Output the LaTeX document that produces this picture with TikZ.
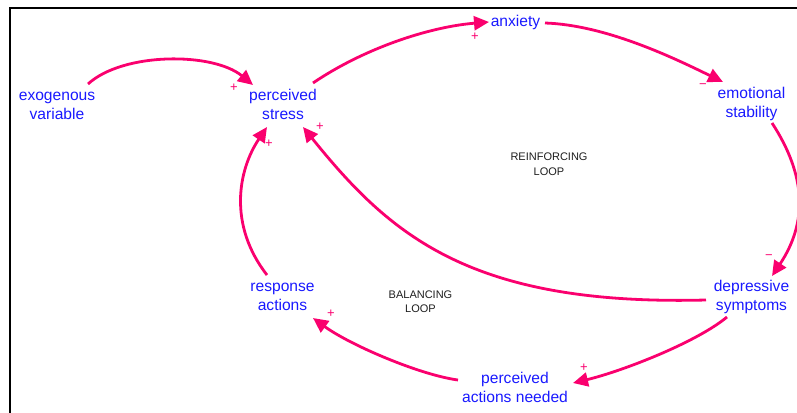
\documentclass[tikz,border=0pt]{standalone}
\usepackage{fontspec}
\setmainfont{Liberation Sans}
\usetikzlibrary{arrows.meta}
\definecolor{linkpink}{RGB}{250,0,110}
\definecolor{varblue}{RGB}{25,25,255}
\definecolor{looptext}{RGB}{30,30,30}
\begin{document}
\begin{tikzpicture}[x=1pt,y=-1pt,
  var/.style={text=varblue, font=\fontsize{15.6}{19}\selectfont, align=center, inner sep=0pt, anchor=base},
  looplabel/.style={text=looptext, font=\fontsize{11}{14.4}\selectfont, align=center, inner sep=0pt, anchor=base},
  link/.style={draw=linkpink, line width=2.8pt, -{Triangle[length=15pt,width=14pt]}},
  sign/.style={text=linkpink, font=\fontsize{13}{13}\selectfont, inner sep=0pt}]
\useasboundingbox (0,0) rectangle (797,412);
\clip (0,0) rectangle (797,412);

% frame
\draw[line width=2pt, black] (10.2,420) -- (10.2,8) -- (805,8);

% variables (placed by the baseline of their last line)
\node[var] (exo)  at (57,119.5)    {exogenous\\variable};
\node[var] (ps)   at (283,119)     {perceived\\stress};
\node[var] (anx)  at (515.5,26.5)  {anxiety};
\node[var] (emo)  at (751.5,117)   {emotional\\stability};
\node[var] (dep)  at (751.5,310.5) {depressive\\symptoms};
\node[var] (pan)  at (515,402)     {perceived\\actions needed};
\node[var] (resp) at (282.5,310.5) {response\\actions};

% loop names
\node[looplabel] (rloop) at (549,175.1)   {REINFORCING\\LOOP};
\node[looplabel] (bloop) at (420.5,312.7) {BALANCING\\LOOP};

% causal links
\draw[link] ([shift={(31,-35.5)}]exo.base) .. controls +(35,-32) and +(-40,-33) .. ([shift={(-30,-34)}]ps.base);
\draw[link] ([shift={(30,-36)}]ps.base) .. controls +(50,-34) and +(-61,5) .. ([shift={(-26.5,-4.5)}]anx.base);
\draw[link] ([shift={(29.5,-3.5)}]anx.base) .. controls +(60,2) and +(-51,-25) .. ([shift={(-28.5,-35)}]emo.base);
\draw[link] ([shift={(20.5,6)}]emo.base) .. controls +(34,52) and +(36,-54) .. ([shift={(20.5,-34.5)}]dep.base);
\draw[link] ([shift={(-45.5,-10.5)}]dep.base) .. controls +(-236,6) and +(87,108) .. ([shift={(20,8)}]ps.base);
\draw[link] ([shift={(-24.5,6.5)}]dep.base) .. controls +(-30,25) and +(50,-12) .. ([shift={(58,-19)}]pan.base);
\draw[link] ([shift={(-57,-22)}]pan.base) .. controls +(-38,-5) and +(37,27) .. ([shift={(30.5,7.5)}]resp.base);
\draw[link] ([shift={(-15.5,-35.5)}]resp.base) .. controls +(-39,-50) and +(-29,43) .. ([shift={(-16,8)}]ps.base);

% polarities
\node[sign] (s1) at (234,88)  {+};
\node[sign] (s2) at (475,37)  {+};
\node[sign] (s3) at (703,86)  {−};
\node[sign] (s4) at (769,257) {−};
\node[sign] (s5) at (320,127) {+};
\node[sign] (s6) at (269,144) {+};
\node[sign] (s7) at (584,368) {+};
\node[sign] (s8) at (331,314) {+};
\end{tikzpicture}
\end{document}
